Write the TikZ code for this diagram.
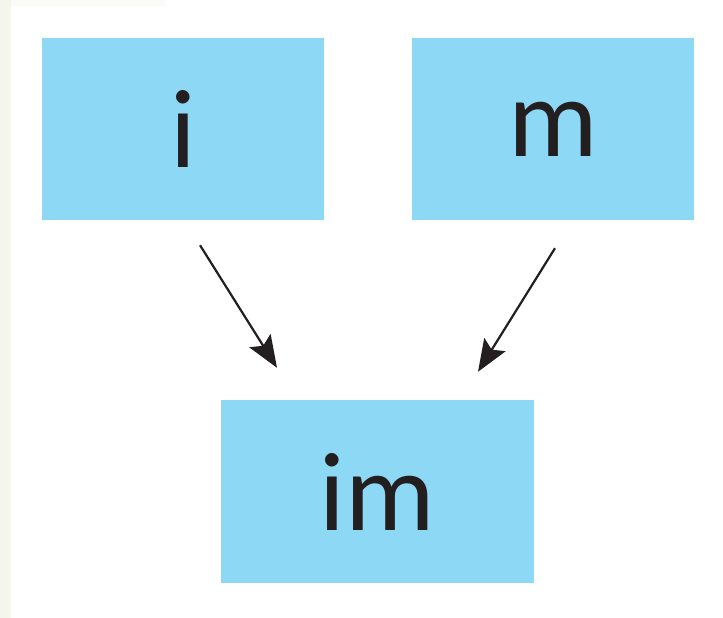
\documentclass[tikz,border=0pt]{standalone}
\usepackage{fontspec}
\setmainfont{Carlito}
\usepackage{tikz}
\usetikzlibrary{arrows.meta}
\definecolor{boxblue}{HTML}{8DD8F5}
\definecolor{inkdark}{HTML}{231F20}
\tikzset{
  blk/.style={fill=boxblue, inner sep=0pt, text=inkdark, font=\fontsize{112}{114}\selectfont},
  arr/.style={draw=inkdark, line width=2.2pt, -{Stealth[length=32pt, width=25pt, inset=6pt]}}
}

\begin{document}
\begin{tikzpicture}[x=1pt, y=1pt] % 1pt = 1px
  \useasboundingbox (0,0) rectangle (723,618); % 図の大きさ
  \fill[fill={rgb,255:red,244;green,246;blue,238}] (0,0) rectangle (11,618); % 左の帯
  \fill[fill={rgb,255:red,250;green,250;blue,246}] (11,612) rectangle (165,618); % 上の帯

  \node[blk, minimum width=282pt, minimum height=182pt] (i) at (183,489) {i}; % 左上の箱
  \node[blk, minimum width=282pt, minimum height=182pt] (m) at (553,489) {m}; % 右上の箱
  \node[blk, minimum width=313pt, minimum height=183pt] (im) at (377.5,126.5) {im}; % 下の箱

  \draw[arr] ([xshift=17pt, yshift=-25pt]i.south) -- ([xshift=-100.5pt, yshift=32pt]im.north); % 左の矢印
  \draw[arr] ([xshift=2pt, yshift=-28pt]m.south) -- ([xshift=100.5pt, yshift=28pt]im.north); % 右の矢印
\end{tikzpicture}
\end{document}
